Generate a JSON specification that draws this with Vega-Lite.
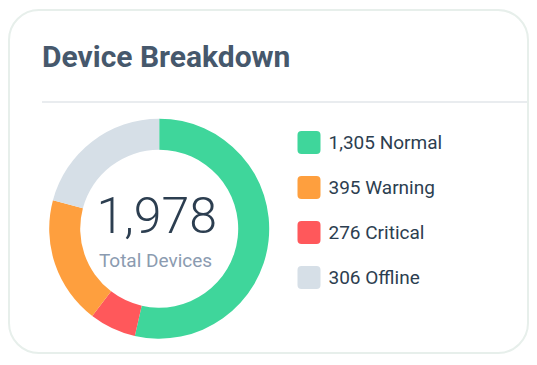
{
  "$schema": "https://vega.github.io/schema/vega-lite/v6.json",
  "width": 537,
  "height": 365,
  "autosize": {"type": "fit", "contains": "padding"},
  "padding": {"left": 9, "top": 10, "right": 9, "bottom": 12},
  "background": "#ffffff",
  "config": {
    "view": {"fill": "#f7f9fa", "stroke": "#e7efeb", "strokeWidth": 2, "cornerRadius": 30},
    "font": "Roboto"
  },
  "title": {
    "text": "Device Breakdown",
    "anchor": "start",
    "frame": "group",
    "orient": "top",
    "offset": -87,
    "dx": 33,
    "baseline": "alphabetic",
    "fontSize": 30,
    "fontWeight": "bold",
    "font": "Roboto",
    "color": "#46586c"
  },
  "data": {
    "values": [
      {"status": "Normal", "devices": 1305, "arc_deg": 192.8, "ring_order": 1},
      {"status": "Critical", "devices": 276, "arc_deg": 24.7, "ring_order": 2},
      {"status": "Warning", "devices": 395, "arc_deg": 67.5, "ring_order": 3},
      {"status": "Offline", "devices": 306, "arc_deg": 75.0, "ring_order": 4}
    ]
  },
  "transform": [
    {"calculate": "format(datum.devices, ',') + ' ' + datum.status", "as": "legend_label"}
  ],
  "layer": [
    {
      "data": {"values": [{}]},
      "mark": {"type": "rule", "stroke": "#e2e6ea", "strokeWidth": 1.5},
      "encoding": {
        "x": {"datum": 33, "type": "quantitative", "scale": {"domain": [0, 519], "nice": false, "zero": false}, "axis": null},
        "x2": {"datum": 518},
        "y": {"datum": 92, "type": "quantitative", "scale": {"domain": [0, 343], "nice": false, "zero": false, "reverse": true}, "axis": null}
      }
    },
    {
      "mark": {"type": "arc", "radius": 110, "radius2": 79, "x": 150.2, "y": 218.7},
      "encoding": {
        "theta": {"field": "arc_deg", "type": "quantitative", "stack": true},
        "order": {"field": "ring_order", "type": "quantitative"},
        "color": {
          "field": "legend_label",
          "type": "nominal",
          "scale": {
            "domain": ["1,305 Normal", "395 Warning", "276 Critical", "306 Offline"],
            "range": ["#3fd69b", "#fe9f3e", "#ff585b", "#d6dfe7"]
          },
          "legend": {
            "orient": "none",
            "legendX": 288.5,
            "legendY": 121,
            "title": null,
            "symbolType": "M -0.65 -1 L 0.65 -1 Q 1 -1 1 -0.65 L 1 0.65 Q 1 1 0.65 1 L -0.65 1 Q -1 1 -1 0.65 L -1 -0.65 Q -1 -1 -0.65 -1 Z",
            "symbolSize": 529,
            "symbolStrokeWidth": 0,
            "symbolOpacity": 1,
            "labelFontSize": 19,
            "labelFont": "Roboto",
            "labelColor": "#2c3e50",
            "labelOffset": 8,
            "labelLimit": 300,
            "rowPadding": 22,
            "padding": 0
          }
        }
      }
    },
    {
      "data": {"values": [{}]},
      "mark": {"type": "text", "text": "1,978", "x": 147.7, "y": 222.7, "align": "center", "baseline": "alphabetic", "fontSize": 50, "fontWeight": 300, "font": "Roboto", "color": "#2c3e50"},
      "encoding": {}
    },
    {
      "data": {"values": [{}]},
      "mark": {"type": "text", "text": "Total Devices", "x": 146.5, "y": 256.7, "align": "center", "baseline": "alphabetic", "fontSize": 19, "font": "Roboto", "color": "#8b9bb0"},
      "encoding": {}
    }
  ]
}
